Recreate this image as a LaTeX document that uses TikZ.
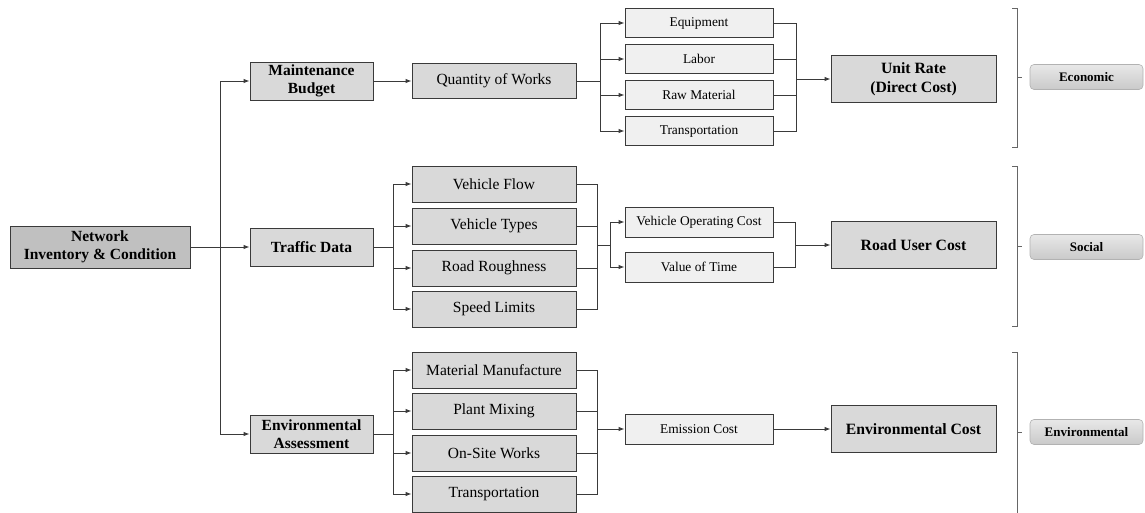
\documentclass[tikz,border=0pt]{standalone}
\usepackage{fontspec}
\setmainfont{LiberationSerif}[Extension=.ttf, UprightFont=*-Regular, BoldFont=*-Bold, ItalicFont=*-Italic, BoldItalicFont=*-BoldItalic]
\usetikzlibrary{arrows.meta}
\definecolor{dark}{HTML}{3A3A3A}
\definecolor{midfill}{HTML}{D9D9D9}
\definecolor{darkfill}{HTML}{C0C0C0}
\definecolor{lightfill}{HTML}{F0F0F0}
\tikzset{
  base/.style={draw=dark, line width=0.9pt, inner sep=0pt, align=center},
  rootbox/.style={base, fill=darkfill, minimum width=180pt, minimum height=42pt, font=\fontsize{15.5}{18.5}\selectfont\bfseries},
  boldbox/.style={base, fill=midfill, minimum width=123pt, minimum height=38pt, font=\fontsize{15.5}{18.5}\selectfont\bfseries},
  midbox/.style={base, fill=midfill, minimum width=164pt, minimum height=36pt, font=\fontsize{15.5}{18.5}\selectfont},
  smallbox/.style={base, fill=lightfill, minimum width=148pt, minimum height=30pt, font=\fontsize{13.4}{16}\selectfont},
  costbox/.style={base, fill=midfill, minimum width=165pt, minimum height=47pt, font=\fontsize{15.7}{18.5}\selectfont\bfseries},
  catbox/.style={draw=gray!60, line width=0.6pt, rounded corners=4pt, top color=gray!18, bottom color=gray!42, minimum width=113pt, minimum height=25pt, inner sep=0pt, font=\fontsize{13}{15}\selectfont\bfseries},
  conn/.style={draw=dark, line width=0.9pt},
  arr/.style={conn, -{Latex[length=6pt,width=4.5pt]}},
  brk/.style={draw=gray!80!black, line width=0.9pt}
}
\begin{document}
\begin{tikzpicture}[x=1pt,y=-1pt]
\useasboundingbox (0,0) rectangle (1145,513);
% left
\node[rootbox] (net) at (100,247) {Network\\Inventory \& Condition};
\node[boldbox] (mb) at (311.5,81) {Maintenance\\Budget};
\node[boldbox] (td) at (311.5,247) {Traffic Data};
\node[boldbox] (ea) at (311.5,434) {Environmental\\Assessment};
% economic branch
\node[midbox, minimum height=35pt] (qw) at (494,81) {Quantity of Works};
\node[smallbox, minimum height=29pt] (eq) at (699,23) {Equipment};
\node[smallbox, minimum height=29pt] (lab) at (699,59) {Labor};
\node[smallbox, minimum height=29pt] (rm) at (699,95) {Raw Material};
\node[smallbox, minimum height=29pt] (tra) at (699,131) {Transportation};
\node[costbox] (ur) at (913.5,79) {Unit Rate\\(Direct Cost)};
% social branch
\node[midbox] (vf) at (494,184) {Vehicle Flow};
\node[midbox] (vt) at (494,226) {Vehicle Types};
\node[midbox] (rr) at (494,268) {Road Roughness};
\node[midbox] (sl) at (494,309) {Speed Limits};
\node[smallbox] (voc) at (699,222) {Vehicle Operating Cost};
\node[smallbox] (vot) at (699,267) {Value of Time};
\node[costbox] (ruc) at (913.5,245) {Road User Cost};
% environmental branch
\node[midbox] (mm) at (494,370) {Material Manufacture};
\node[midbox] (pm) at (494,411) {Plant Mixing};
\node[midbox] (os) at (494,453) {On-Site Works};
\node[midbox] (trb) at (494,494) {Transportation};
\node[smallbox] (ec) at (699,429) {Emission Cost};
\node[costbox] (envc) at (913.5,429) {Environmental Cost};
% categories
\node[catbox] (econ) at (1086.5,77) {Economic};
\node[catbox] (soc) at (1086.5,247) {Social};
\node[catbox] (env) at (1086.5,432) {Environmental};
% junctions
\coordinate (tj) at (220,247);
\coordinate (s1) at (600,81);
\coordinate (c1) at (796,79);
\coordinate (s2) at (393,247);
\coordinate (c2) at (597,245);
\coordinate (s3) at (610,245);
\coordinate (c3) at (795,245);
\coordinate (s4) at (393,434);
\coordinate (c4) at (597,429);
% trunk
\draw[arr] (net.east) -- (td.west);
\draw[arr] (tj) |- (mb.west);
\draw[arr] (tj) |- (ea.west);
% economic
\draw[arr] (mb.east) -- (qw.west);
\draw[conn] (qw.east) -- (s1);
\foreach \n in {eq,lab,rm,tra} {\draw[arr] (s1) |- (\n.west);}
\foreach \n in {eq,lab,rm,tra} {\draw[conn] (\n.east) -| (c1);}
\draw[arr] (c1) -- (ur.west);
% social
\draw[conn] (td.east) -- (s2);
\foreach \n in {vf,vt,rr,sl} {\draw[arr] (s2) |- (\n.west);}
\foreach \n in {vf,vt,rr,sl} {\draw[conn] (\n.east) -| (c2);}
\draw[conn] (c2) -- (s3);
\foreach \n in {voc,vot} {\draw[arr] (s3) |- (\n.west);}
\foreach \n in {voc,vot} {\draw[conn] (\n.east) -| (c3);}
\draw[arr] (c3) -- (ruc.west);
% environmental
\draw[conn] (ea.east) -- (s4);
\foreach \n in {mm,pm,os,trb} {\draw[arr] (s4) |- (\n.west);}
\foreach \n in {mm,pm,os,trb} {\draw[conn] (\n.east) -| (c4);}
\draw[arr] (c4) -- (ec.west);
\draw[arr] (ec.east) -- (envc.west);
% brackets
\draw[brk] (1012,8) -- (1017,8) -- (1017,147) -- (1012,147);
\draw[brk] (1017,77) -- (1022,77);
\draw[brk] (1012,166) -- (1017,166) -- (1017,326) -- (1012,326);
\draw[brk] (1017,246) -- (1022,246);
\draw[brk] (1012,352) -- (1017,352) -- (1017,513);
\draw[brk] (1017,432) -- (1022,432);
\end{tikzpicture}
\end{document}
